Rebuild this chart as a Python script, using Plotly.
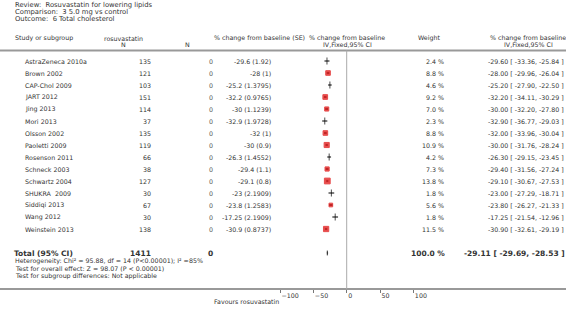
import plotly.graph_objects as go

W, H = 566, 313

studies = ["AstraZeneca 2010a", "Brown 2002", "CAP-Chol 2009", "JART 2012", "Jing 2013",
           "Mori 2013", "Olsson 2002", "Paoletti 2009", "Rosenson 2011", "Schneck 2003",
           "Schwartz 2004", "SHUKRA  2009", "Siddiqi 2013", "Wang 2012", "Weinstein 2013"]
n_rosu = [135, 121, 103, 151, 114, 37, 135, 119, 66, 38, 127, 30, 67, 30, 138]
n_ctrl = [0, 0, 0, 0, 0, 0, 0, 0, 0, 0, 0, 0, 0, 0, 0]
mean = [-29.6, -28, -25.2, -32.2, -30, -32.9, -32, -30, -26.3, -29.4, -29.1, -23, -23.8, -17.25, -30.9]
se = [1.92, 1, 1.3795, 0.9765, 1.1239, 1.9728, 1, 0.9, 1.4552, 1.1, 0.8, 2.1909, 1.2583, 2.1909, 0.8737]
weight = [2.4, 8.8, 4.6, 9.2, 7.0, 2.3, 8.8, 10.9, 4.2, 7.3, 13.8, 1.8, 5.6, 1.8, 11.5]
ci_lo = [-33.36, -29.96, -27.90, -34.11, -32.20, -36.77, -33.96, -31.76, -29.15, -31.56, -30.67, -27.29, -26.27, -21.54, -32.61]
ci_hi = [-25.84, -26.04, -22.50, -30.29, -27.80, -29.03, -30.04, -28.24, -23.45, -27.24, -27.53, -18.71, -21.33, -12.96, -29.19]

total_n_rosu = 1411
total_n_ctrl = 0
total_est, total_lo, total_hi = -29.11, -29.69, -28.53
total_weight = 100.0

tick_vals = [-100, -50, 0, 50, 100]

FONT = "DejaVu Sans"
TXT = "#333333"
FS = 6.3
FT = 6.8
FB = 7.5
rows = list(range(len(studies)))
total_row = 16


def px(xp):
    return xp / W


def py(yp):
    return 1 - yp / H


fig = go.Figure()

small = [w < 5 for w in weight]
fig.add_trace(go.Scatter(
    x=mean, y=rows, mode="markers",
    error_x=dict(type="data", symmetric=False,
                 array=[h - m for h, m in zip(ci_hi, mean)],
                 arrayminus=[m - l for m, l in zip(mean, ci_lo)],
                 color="black", thickness=1, width=0),
    marker=dict(symbol=["line-ns" if s else "square" for s in small],
                size=[5 if s else 1.55 * (w ** 0.5) for s, w in zip(small, weight)],
                color="#dd0000",
                line=dict(color=["black" if s else "#dd0000" for s in small], width=1)),
    hoverinfo="skip", showlegend=False,
))

dh = 0.2
fig.add_trace(go.Scatter(
    x=[total_lo, total_est, total_hi, total_est, total_lo],
    y=[total_row, total_row - dh, total_row, total_row + dh, total_row],
    mode="lines", fill="toself", fillcolor="black",
    line=dict(color="black", width=0.4), hoverinfo="skip", showlegend=False,
))

ann = []


def add(text, x, y, anchor="left", size=FS, bold=False, yref="paper", color=TXT):
    if bold:
        text = "<b>" + text + "</b>"
    ann.append(dict(text=text, x=x, y=y, xref="paper", yref=yref, xanchor=anchor,
                    yanchor="middle", showarrow=False,
                    font=dict(family=FONT, size=size, color=color)))


add("Review:  Rosuvastatin for lowering lipids", px(13), py(5.5), size=FT)
add("Comparison:  3 5.0 mg vs control", px(13), py(12), size=FT)
add("Outcome:  6 Total cholesterol", px(13), py(18.5), size=FT)

add("Study or subgroup", px(13), py(38))
add("rosuvastatin", px(123), py(38), "center")
add("N", px(123), py(44), "center")
add("N", px(188), py(44), "center")
add("% change from baseline (SE)", px(259), py(38), "center")
add("% change from baseline", px(347), py(38), "center")
add("IV,Fixed,95% CI", px(347), py(44), "center")
add("Weight", px(429), py(38), "center")
add("% change from baseline", px(528), py(38), "center")
add("IV,Fixed,95% CI", px(528), py(44), "center")

for i, s in enumerate(studies):
    add(s, px(23), i, yref="y")
    add(str(n_rosu[i]), px(153), i, "right", yref="y")
    add(str(n_ctrl[i]), px(211), i, "center", yref="y", color="#555555")
    add(f"{mean[i]:g} ({se[i]:g})", px(273), i, "right", yref="y")
    add(f"{weight[i]:.1f} %", px(446), i, "right", yref="y")
    add(f"{mean[i]:.2f} [ {ci_lo[i]:.2f}, {ci_hi[i]:.2f} ]", px(566), i, "right", yref="y")

add("Total (95% CI)", px(12), total_row, size=FB, bold=True, yref="y")
add(str(total_n_rosu), px(153), total_row, "right", size=FB, bold=True, yref="y")
add(str(total_n_ctrl), px(210), total_row, "center", size=FB, bold=True, yref="y")
add(f"{total_weight:.1f} %", px(447), total_row, "right", size=FB, bold=True, yref="y")
add(f"{total_est:.2f} [ {total_lo:.2f}, {total_hi:.2f} ]", px(567), total_row, "right",
    size=FB, bold=True, yref="y")

add("Heterogeneity: Chi² = 95.88, df = 14 (P<0.00001); I² =85%", px(13), py(260.5))
add("Test for overall effect: Z = 98.07 (P < 0.00001)", px(13), py(268))
add("Test for subgroup differences: Not applicable", px(13), py(275.5))

add("Favours rosuvastatin", px(246), py(301), "center")

shapes = [
    dict(type="line", xref="paper", yref="paper", x0=0, x1=1, y0=py(50.5), y1=py(50.5),
         line=dict(color="#999999", width=2)),
    dict(type="line", xref="x", yref="paper", x0=0, x1=0, y0=py(289), y1=py(50.5),
         line=dict(color="#aaaaaa", width=1)),
]

x0_px = 346.7
scale = 0.6667
fig.update_layout(
    width=W, height=H, margin=dict(l=0, r=0, t=0, b=0, autoexpand=False),
    paper_bgcolor="white", plot_bgcolor="white",
    annotations=ann, shapes=shapes, showlegend=False,
    xaxis=dict(range=[-x0_px / scale, (W - x0_px) / scale], domain=[0, 1],
               anchor="free", position=py(289), showline=True, linecolor="#999999",
               linewidth=2, showgrid=False, zeroline=False, ticks="outside", ticklen=3,
               tickcolor="#777777", tickvals=tick_vals, ticklabelposition="outside right",
               automargin=False,
               tickfont=dict(family=FONT, size=FS, color=TXT)),
    yaxis=dict(range=[(H - 61) / 12, -61 / 12], domain=[0, 1], visible=False,
               showgrid=False, zeroline=False, automargin=False),
)

fig.write_html("out.html", config={"displayModeBar": False},
               post_script="document.body.style.margin='0';document.body.style.overflow='hidden';")
